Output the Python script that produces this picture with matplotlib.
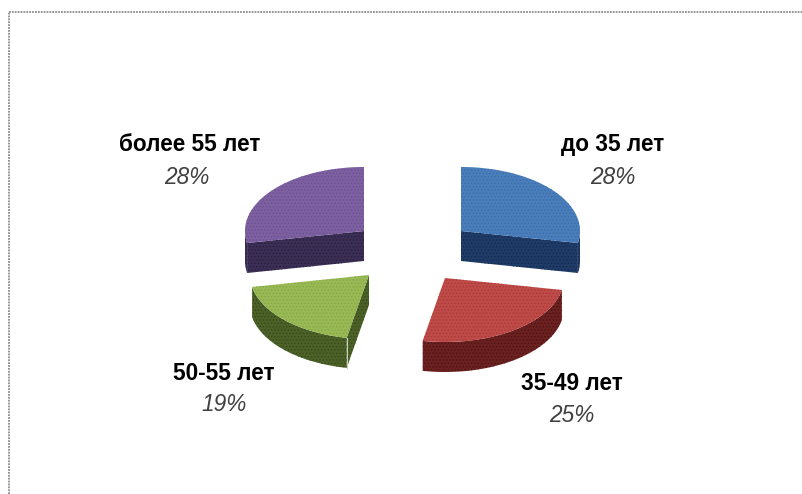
import numpy as np
import matplotlib
matplotlib.use('Agg')
import matplotlib.pyplot as plt

labels = ['до 35 лет', '35-49 лет', '50-55 лет', 'более 55 лет']
shares = [28, 25, 19, 28]
top_colors = ['#4a7ebb', '#be4b48', '#98b954', '#7d60a0']
side_colors = ['#1f3c68', '#6b2120', '#4c6128', '#3c2f55']
dot_colors = ['#3a6cab', '#a83a38', '#86a746', '#6c4f92']
side_dots = ['#142a50', '#4e1212', '#37481a', '#2a1e40']

# apex of each exploded slice on the pixel grid
apex_x = [461, 445, 369, 364]
apex_y = [231, 278, 275, 231]
label_x = [613, 572, 224, 190]
label_y = [144, 383, 373, 144]
pct_x = [613, 572, 224, 187]
pct_y = [177, 415, 404, 177]

rx = 119
ry = 64
depth = 30

plt.rcParams['font.family'] = ['Liberation Sans', 'DejaVu Sans']
plt.rcParams['hatch.linewidth'] = 0.6

fig = plt.figure(figsize=(8.03, 4.94), dpi=100)
ax = fig.add_axes([0, 0, 1, 1])
ax.set_xlim(0, 803)
ax.set_ylim(494, 0)
ax.axis('off')


def rim(cx, cy, a):
    # a is degrees clockwise from 12 o'clock
    t = np.radians(a)
    return cx + rx * np.sin(t), cy - ry * np.cos(t)


def wall(xs, ys, i):
    px = np.concatenate([xs, xs[::-1]])
    py = np.concatenate([ys, ys[::-1] + depth])
    ax.fill(px, py, facecolor=side_colors[i], edgecolor=side_dots[i], linewidth=0, hatch='.....')


ends = np.cumsum(shares) * 3.6
starts = ends - np.array(shares) * 3.6

for i in range(len(shares)):
    cx, cy = apex_x[i], apex_y[i]
    s, e = starts[i], ends[i]

    # outer wall, front half only
    lo, hi = max(s, 90), min(e, 270)
    if hi > lo:
        xs, ys = rim(cx, cy, np.linspace(lo, hi, 60))
        wall(xs, ys, i)

    # cut faces that turn towards the viewer
    if np.sin(np.radians(s)) < -1e-6:
        xs, ys = rim(cx, cy, s)
        wall(np.array([cx, xs]), np.array([cy, ys]), i)
    if np.sin(np.radians(e)) > 1e-6:
        xs, ys = rim(cx, cy, e)
        wall(np.array([cx, xs]), np.array([cy, ys]), i)

    xs, ys = rim(cx, cy, np.linspace(s, e, 120))
    ax.fill(np.r_[cx, xs], np.r_[cy, ys], facecolor=top_colors[i],
            edgecolor=dot_colors[i], linewidth=0, hatch='.....')

    ax.text(label_x[i], label_y[i], labels[i], ha='center', va='center',
            fontsize=16.3, fontweight='bold', color='black')
    ax.text(pct_x[i], pct_y[i], '%d%%' % shares[i], ha='center', va='center',
            fontsize=16.3, fontstyle='italic', color='#404040')

# pale edge where the green slice folds
gx, gy = rim(apex_x[2], apex_y[2], starts[2])
ax.plot([gx, gx], [gy, gy + depth], color='#c8d0b8', lw=0.8)

# dotted frame, runs off the right and bottom
ax.plot([9.5, 9.5], [494, 12], color='#8c8c8c', lw=1.3, ls=(0, (1, 0.6)))
ax.plot([9.5, 803], [12, 12], color='#8c8c8c', lw=1.3, ls=(0, (1, 0.6)))

fig.savefig('out.png', dpi=100)
